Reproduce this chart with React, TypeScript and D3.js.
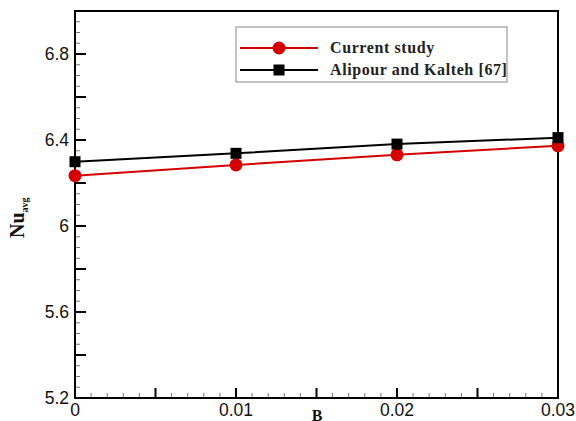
import React from "react";
import * as d3 from "d3";

const bValues = [0, 0.01, 0.02, 0.03];
const currentStudy = [6.234, 6.284, 6.331, 6.373];
const alipourKalteh = [6.299, 6.338, 6.381, 6.411];
const xTickLabels = ["0", "0.01", "0.02", "0.03"];
const yTickLabels = ["5.2", "5.6", "6", "6.4", "6.8"];
const legendLabels = ["Current study", "Alipour and Kalteh [67]"];

const W = 576;
const H = 421;
const L = 75, R = 558, T = 11, B = 398;

export default function App() {
  const x = d3.scaleLinear().domain([0, 0.03]).range([L, R]);
  const y = d3.scaleLinear().domain([5.2, 7.0]).range([B, T]);
  const line = d3
    .line<[number, number]>()
    .x((d) => x(d[0]))
    .y((d) => y(d[1]));

  const redPts = bValues.map((b, i) => [b, currentStudy[i]] as [number, number]);
  const blackPts = bValues.map((b, i) => [b, alipourKalteh[i]] as [number, number]);

  const xMajor = d3.range(0, 0.0301, 0.005);
  const xMinor = d3.range(0, 0.0301, 0.001).filter((v) => Math.abs(v / 0.005 - Math.round(v / 0.005)) > 1e-6);
  const yMajor = d3.range(5.2, 7.001, 0.2);
  const yMinor = d3.range(5.2, 7.001, 0.05).filter((v) => Math.abs((v - 5.2) / 0.2 - Math.round((v - 5.2) / 0.2)) > 1e-6);

  const red = "#d40000";
  const sans = "'Liberation Sans', Arial, sans-serif";
  const serif = "'Liberation Serif', 'Times New Roman', serif";

  return (
    <svg width={W} height={H} style={{ position: "absolute", left: 0, top: 0, background: "#fff" }}>
      <rect x={0} y={0} width={W} height={H} fill="#fff" />
      {/* minor ticks */}
      {xMinor.map((v, i) => (
        <line key={"xm" + i} x1={x(v)} x2={x(v)} y1={B} y2={B - 5} stroke="#777" strokeWidth={1} />
      ))}
      {yMinor.map((v, i) => (
        <line key={"ym" + i} x1={L} x2={L + 5} y1={y(v)} y2={y(v)} stroke="#777" strokeWidth={1} />
      ))}
      {/* major ticks */}
      {xMajor.map((v, i) => (
        <line key={"xM" + i} x1={x(v)} x2={x(v)} y1={B} y2={B - 10} stroke="#000" strokeWidth={2} />
      ))}
      {yMajor.map((v, i) => (
        <line key={"yM" + i} x1={L} x2={L + 11} y1={y(v)} y2={y(v)} stroke="#000" strokeWidth={2} />
      ))}
      {/* frame */}
      <rect x={L} y={T} width={R - L} height={B - T} fill="none" stroke="#000" strokeWidth={2} />

      {/* tick labels */}
      {yTickLabels.map((t) => (
        <text key={"yl" + t} x={69} y={y(+t)} dy="0.36em" textAnchor="end" fontFamily={sans} fontSize={17.5} fill="#111">
          {t}
        </text>
      ))}
      {xTickLabels.map((t) => (
        <text key={"xl" + t} x={x(+t)} y={416} textAnchor="middle" fontFamily={sans} fontSize={17.5} fill="#111">
          {t}
        </text>
      ))}

      {/* axis titles */}
      <text x={317} y={420.5} textAnchor="middle" fontFamily={serif} fontWeight="bold" fontSize={16} fill="#111">
        B
      </text>
      <g transform="translate(24,238) rotate(-90)">
        <text x={0} y={0} fontFamily={serif} fontWeight="bold" fontSize={20} fill="#111">
          Nu
          <tspan fontSize={10} dy={4}>avg</tspan>
        </text>
      </g>

      {/* data */}
      <path d={line(redPts) || ""} fill="none" stroke={red} strokeWidth={2} />
      {redPts.map((p, i) => (
        <circle key={"rc" + i} cx={x(p[0])} cy={y(p[1])} r={6.5} fill={red} />
      ))}
      <path d={line(blackPts) || ""} fill="none" stroke="#000" strokeWidth={2} />
      {blackPts.map((p, i) => (
        <rect key={"bs" + i} x={x(p[0]) - 5.5} y={y(p[1]) - 5.5} width={11} height={11} fill="#000" />
      ))}

      {/* legend */}
      <rect x={236} y={27} width={271} height={55} fill="#fff" stroke="#888" strokeWidth={1} />
      <line x1={240} x2={318} y1={48} y2={48} stroke={red} strokeWidth={2} />
      <circle cx={279} cy={48} r={6.5} fill={red} />
      <line x1={240} x2={318} y1={70} y2={70} stroke="#000" strokeWidth={2} />
      <rect x={273.5} y={64.5} width={11} height={11} fill="#000" />
      <text x={330} y={53} fontFamily={serif} fontWeight="bold" fontSize={16} letterSpacing={0.6} fill="#222">
        {legendLabels[0]}
      </text>
      <text x={330} y={75} fontFamily={serif} fontWeight="bold" fontSize={16} letterSpacing={0.6} fill="#222">
        {legendLabels[1]}
      </text>
    </svg>
  );
}
